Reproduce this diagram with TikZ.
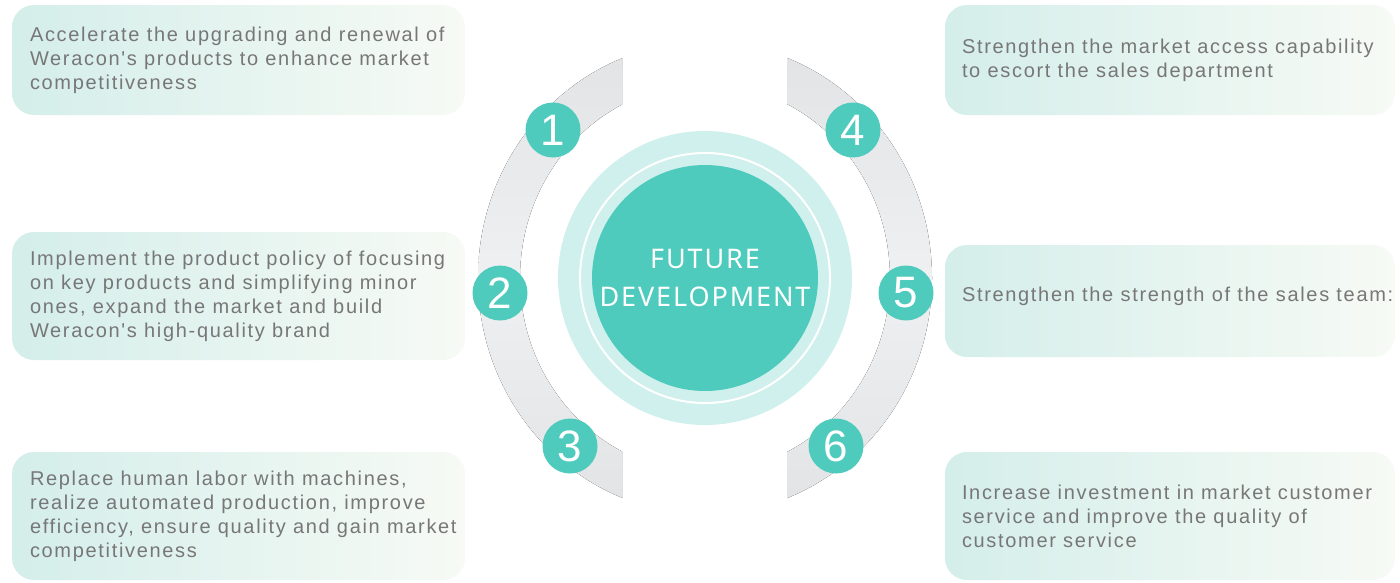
\documentclass[tikz,border=0pt]{standalone}
\usepackage{fontspec}
\setmainfont{Liberation Sans}
\newfontfamily\labelfont[LetterSpace=8.4]{Liberation Sans}
\newfontfamily\titlefont[LetterSpace=7.0]{Noto Sans}
\usetikzlibrary{calc}
\definecolor{tealdark}{HTML}{4ECBBD}
\definecolor{teallight}{HTML}{CFF0EC}
\definecolor{ringgray}{HTML}{E2E3E5}
\definecolor{ringmid}{HTML}{EFF0F1}
\definecolor{boxleft}{HTML}{D4EEEA}
\definecolor{boxright}{HTML}{F7FAF5}
\definecolor{textgray}{HTML}{777777}

\begin{document}
\begin{tikzpicture}[x=1pt, y=-1pt, line cap=round, line join=round,
	infobox/.style={rounded corners=22pt, left color=boxleft, right color=boxright,
		draw=none, inner sep=0pt},
	infotext/.style={anchor=west, align=left, inner sep=0pt, text=textgray,
		font=\labelfont\fontsize{20}{24}\selectfont},
	numdot/.style={circle, fill=tealdark, minimum size=55pt, inner sep=0pt,
		text=white, font=\fontsize{44}{44}\selectfont}]

\useasboundingbox (0,0) rectangle (1400,582);
\coordinate (c) at (705,278);

% ==== gray ring, cut at top and bottom ====
\begin{scope}
	\clip (0,0) rectangle (622,582) (787,0) rectangle (1400,582);
	\fill[even odd rule, top color=ringgray, bottom color=ringgray, middle color=ringmid]
	(c) ellipse [x radius=227, y radius=236]
	(c) ellipse [x radius=185, y radius=194];
\end{scope}

% ==== centre disc ====
\fill[teallight] (c) circle (147);
\draw[white, line width=2pt] (c) circle (125);
\node[circle, fill=tealdark, minimum size=226pt, inner sep=0pt, text=white,
	align=center, font=\titlefont\fontsize{27}{38}\selectfont] (hub) at (c)
	{FUTURE\\DEVELOPMENT};

% ==== numbered dots ====
\node[numdot] (n1) at (553,130) {1};
\node[numdot] (n2) at (500,293) {2};
\node[numdot] (n3) at (570,446) {3};
\node[numdot] (n4) at (853,130) {4};
\node[numdot] (n5) at (906,293) {5};
\node[numdot] (n6) at (836,446) {6};

% ==== left boxes ====
\node[infobox, minimum width=453pt, minimum height=110pt] (b1) at (238.5,60) {};
\node[infotext] (t1) at ([xshift=18]b1.west)
	{Accelerate the upgrading and renewal of\\Weracon's products to enhance market\\competitiveness};
\node[infobox, minimum width=453pt, minimum height=128pt] (b2) at (238.5,296) {};
\node[infotext] (t2) at ([xshift=18]b2.west)
	{Implement the product policy of focusing\\on key products and simplifying minor\\ones, expand the market and build\\Weracon's high-quality brand};
\node[infobox, minimum width=453pt, minimum height=128pt] (b3) at (238.5,516) {};
\node[infotext] (t3) at ([xshift=18]b3.west)
	{Replace human labor with machines,\\realize automated production, improve\\efficiency, ensure quality and gain market\\competitiveness};

% ==== right boxes ====
\node[infobox, minimum width=450pt, minimum height=110pt] (b4) at (1170,60) {};
\node[infotext] (t4) at ([xshift=17]b4.west)
	{Strengthen the market access capability\\to escort the sales department};
\node[infobox, minimum width=450pt, minimum height=112pt] (b5) at (1170,301) {};
\node[infotext] (t5) at ([xshift=17,yshift=5]b5.west)
	{Strengthen the strength of the sales team:};
\node[infobox, minimum width=450pt, minimum height=128pt] (b6) at (1170,516) {};
\node[infotext] (t6) at ([xshift=17]b6.west)
	{Increase investment in market customer\\service and improve the quality of\\customer service};

\end{tikzpicture}
\end{document}
